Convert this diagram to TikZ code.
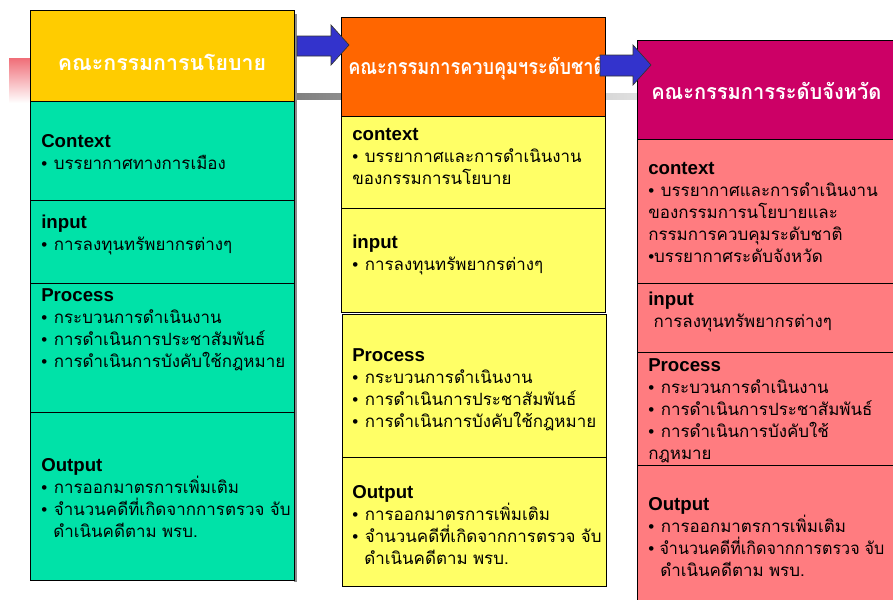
\documentclass[tikz,border=0pt]{standalone}
\usepackage{fontspec}
\usepackage{graphicx}
\setmainfont{Liberation Sans}
\newfontfamily\thai[Script=Thai]{Loma}
\usetikzlibrary{positioning}
\definecolor{hdyellow}{RGB}{255,204,0}
\definecolor{hdorange}{RGB}{255,102,0}
\definecolor{hdmagenta}{RGB}{204,0,102}
\definecolor{bdgreen}{RGB}{0,226,168}
\definecolor{bdyellow}{RGB}{255,255,102}
\definecolor{bdpink}{RGB}{255,124,128}
\definecolor{arblue}{RGB}{51,51,204}
\newcommand{\blt}{{\rmfamily\textbullet}\hspace{5pt}}
\newcommand{\ttl}[1]{{\rmfamily\bfseries\fontsize{14}{16.5}\selectfont #1}}
\newcommand{\sep}{\hspace{4pt}}
\begin{document}
\begin{tikzpicture}[x=0.75pt,y=0.75pt,yscale=-1,xscale=1,
  hdtext/.style={text=white,inner sep=0pt,font=\thai\bfseries\fontsize{16}{20}\selectfont},
  sectext/.style={anchor=north west,inner sep=0pt,align=left,font=\thai\fontsize{12.7}{16.5}\selectfont},
  cell/.style={draw=black,line width=0.6pt}]
\useasboundingbox (0,0) rectangle (893,600);

%Shape: pink fade at left
\shade [top color={rgb,255:red,240;green,110;blue,120},bottom color=white] (9,58) rectangle (30,103);
%Shape: gray bar behind the headers
\shade [left color=black!50,right color=black!12] (294,93) rectangle (637,99);
%Shape: shadow of the first column
\fill [black!45] (294,14) rectangle (297,582);

%Column 1
\draw [cell,fill=hdyellow] (30,10) rectangle (294,101);
\draw [cell,fill=bdgreen] (30,101) rectangle (294,200);
\draw [cell,fill=bdgreen] (30,200) rectangle (294,283);
\draw [cell,fill=bdgreen] (30,283) rectangle (294,412);
\draw [cell,fill=bdgreen] (30,412) rectangle (294,580);

%Column 2
\draw [cell,fill=hdorange] (341,17) rectangle (605,116);
\draw [cell,fill=bdyellow] (341,116) rectangle (605,208);
\draw [cell,fill=bdyellow] (341,208) rectangle (605,312);
\draw [cell,fill=bdyellow] (342,314) rectangle (606,457);
\draw [cell,fill=bdyellow] (342,457) rectangle (606,586);

%Column 3
\draw [cell,fill=hdmagenta] (637,40) rectangle (900,139);
\draw [cell,fill=bdpink] (637,139) rectangle (900,283);
\draw [cell,fill=bdpink] (637,283) rectangle (900,352);
\draw [cell,fill=bdpink] (637,352) rectangle (900,465);
\draw [cell,fill=bdpink] (637,465) rectangle (900,610);

% Text Node
\node [hdtext] (polhead) at (162,62) {คณะกรรมการนโยบาย};
% Text Node
\node [hdtext,anchor=west] (nathead) at (348,69) {\scalebox{0.85}[1]{คณะกรรมการควบคุมฯระดับชาติ}};
% Text Node
\node [hdtext,anchor=west] (provhead) at (651,91) {\scalebox{0.94}[1]{คณะกรรมการระดับจังหวัด}};

%Block Arrows
\draw [fill=arblue,draw=black!80,line width=0.5pt] (297,36) -- (331,36) -- (331,25) -- (349,45) -- (331,65) -- (331,56) -- (297,56) -- cycle;
\draw [fill=arblue,draw=black!80,line width=0.5pt] (600,55) -- (633,55) -- (633,45) -- (651,65) -- (633,85) -- (633,76) -- (600,76) -- cycle;

% Text Node
\node [sectext] (polctx) at (41,134) {\ttl{Context}\\\blt บรรยากาศทางการเมือง};
% Text Node
\node [sectext] (polinp) at (41,215) {\ttl{input}\\\blt การลงทุนทรัพยากรต่างๆ};
% Text Node
\node [sectext] (polprc) at (41,288) {\ttl{Process}\\\blt กระบวนการดำเนินงาน\\\blt การดำเนินการประชาสัมพันธ์\\\blt การดำเนินการบังคับใช้กฎหมาย};
% Text Node
\node [sectext] (polout) at (41,458) {\ttl{Output}\\\blt การออกมาตรการเพิ่มเติม\\\blt จำนวนคดีที่เกิดจากการตรวจ\sep จับ\\\hspace{9pt}ดำเนินคดีตาม\sep พรบ.};

% Text Node
\node [sectext] (natctx) at (352,128) {\ttl{context}\\\blt บรรยากาศและการดำเนินงาน\\ของกรรมการนโยบาย};
% Text Node
\node [sectext] (natinp) at (352,235) {\ttl{input}\\\blt การลงทุนทรัพยากรต่างๆ};
% Text Node
\node [sectext] (natprc) at (352,348) {\ttl{Process}\\\blt กระบวนการดำเนินงาน\\\blt การดำเนินการประชาสัมพันธ์\\\blt การดำเนินการบังคับใช้กฎหมาย};
% Text Node
\node [sectext] (natout) at (352,485) {\ttl{Output}\\\blt การออกมาตรการเพิ่มเติม\\\blt จำนวนคดีที่เกิดจากการตรวจ\sep จับ\\\hspace{9pt}ดำเนินคดีตาม\sep พรบ.};

% Text Node
\node [sectext] (provctx) at (648,162) {\ttl{context}\\\blt บรรยากาศและการดำเนินงาน\\ของกรรมการนโยบายและ\\กรรมการควบคุมระดับชาติ\\{\rmfamily\textbullet}บรรยากาศระดับจังหวัด};
% Text Node
\node [sectext] (provinp) at (648,292) {\ttl{input}\\\hspace{4pt}การลงทุนทรัพยากรต่างๆ};
% Text Node
\node [sectext] (provprc) at (648,358) {\ttl{Process}\\\blt กระบวนการดำเนินงาน\\\blt การดำเนินการประชาสัมพันธ์\\\blt การดำเนินการบังคับใช้\\กฎหมาย};
% Text Node
\node [sectext] (provout) at (648,497) {\ttl{Output}\\\blt การออกมาตรการเพิ่มเติม\\{\rmfamily\textbullet}\hspace{4pt}\scalebox{0.95}[1]{จำนวนคดีที่เกิดจากการตรวจ\sep จับ}\\\hspace{9pt}ดำเนินคดีตาม\sep พรบ.};

\end{tikzpicture}
\end{document}
